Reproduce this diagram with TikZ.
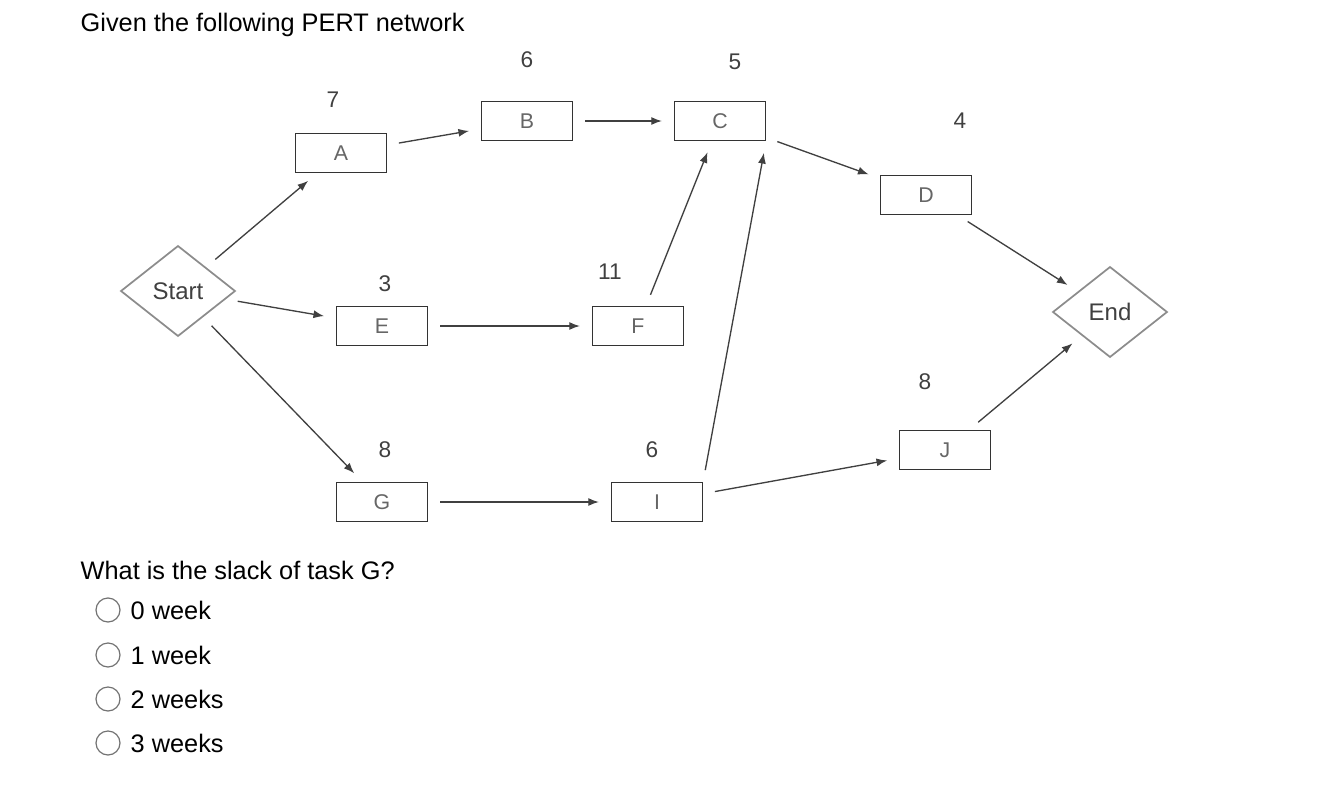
\documentclass[tikz,border=0pt]{standalone}
\usepackage{fontspec}
\setmainfont{Liberation Sans}
\usetikzlibrary{shapes.geometric,arrows.meta}
\begin{document}
\begin{tikzpicture}[x=0.75pt,y=-0.75pt,
	task/.style={draw=black!80, line width=1.1pt, minimum width=68pt, minimum height=29pt, inner sep=0pt, text=black!60, font=\fontsize{16}{18}\selectfont},
	ev/.style={diamond, draw=black!45, line width=1.3pt, aspect=1.3, minimum width=86pt, minimum height=68pt, inner sep=0pt, text=black!75, font=\fontsize{18}{20}\selectfont},
	dur/.style={text=black!75, font=\fontsize{17}{19}\selectfont},
	link/.style={-{Latex[length=8pt,width=6pt]}, draw=black!75, line width=1pt, shorten <=9pt, shorten >=9pt},
	txt/.style={anchor=west, font=\fontsize{19}{22}\selectfont},
	radio/.style={circle, draw=black!55, line width=0.9pt, minimum size=18pt, inner sep=0pt},
]
\useasboundingbox (0,0) rectangle (1318,800);
\node[txt] (q1) at (76,25) {Given the following PERT network};
\node[txt] (q2) at (76,570) {What is the slack of task G?};

\node[ev] (S) at (178,291) {Start};
\node[ev] (N) at (1110,312) {End};
\node[task] (A) at (341,153) {A}; \node[dur] at (333,100) {7};
\node[task] (B) at (527,121) {B}; \node[dur] at (527,60) {6};
\node[task] (C) at (720,121) {C}; \node[dur] at (735,62) {5};
\node[task] (D) at (926,195) {D}; \node[dur] at (960,121) {4};
\node[task] (E) at (382,326) {E}; \node[dur] at (385,284) {3};
\node[task] (F) at (638,326) {F}; \node[dur] at (610,272) {11};
\node[task] (G) at (382,502) {G}; \node[dur] at (385,450) {8};
\node[task] (I) at (657,502) {I}; \node[dur] at (652,450) {6};
\node[task] (J) at (945,450) {J}; \node[dur] at (925,382) {8};

\draw[link] (S) -- (A);
\draw[link] (A) -- (B);
\draw[link] (B) -- (C);
\draw[link] (C) -- (D);
\draw[link] (D) -- (N);
\draw[link] (S) -- (E);
\draw[link] (E) -- (F);
\draw[link] (F) -- (C);
\draw[link] (S) -- (G);
\draw[link] (G) -- (I);
\draw[link] (I.north east) -- (C.south east);
\draw[link] (I) -- (J);
\draw[link] (J) -- (N);

\foreach \y/\t in {610/0 week,655/1 week,699/2 weeks,743/3 weeks}{
	\node[radio] (r\y) at (108,\y) {};
	\node[txt] at (126,\y) {\t};
}
\end{tikzpicture}
\end{document}
